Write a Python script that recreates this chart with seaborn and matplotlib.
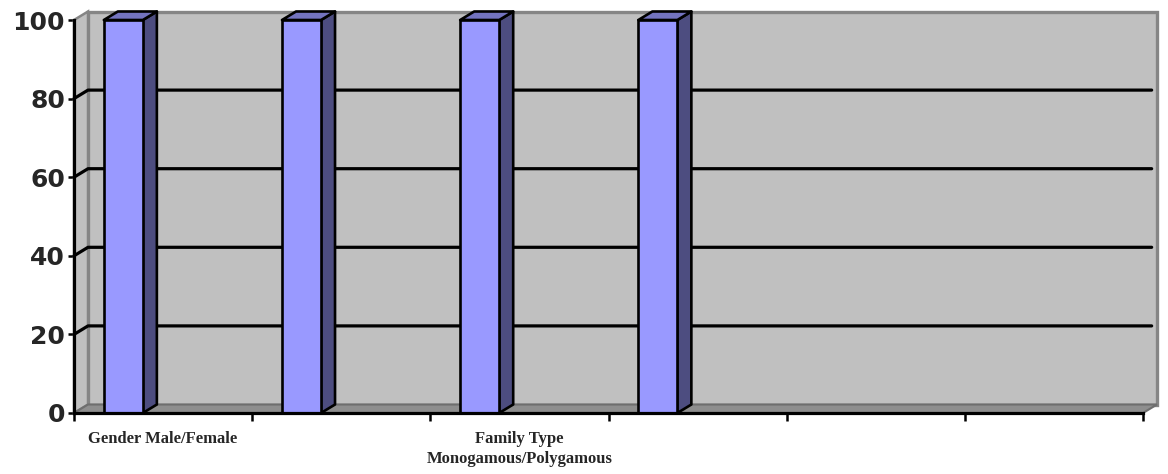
import numpy as np
import pandas as pd
import seaborn as sns
import matplotlib
matplotlib.use("Agg")
import matplotlib.pyplot as plt
from matplotlib.patches import Polygon
from matplotlib.lines import Line2D

# ---- data -------------------------------------------------------------
category_ids = [1, 2, 3, 4, 5, 6]
tick_labels = ["Gender Male/Female", "", "Family Type\nMonogamous/Polygamous", "", "", ""]
values = [100, 100, 100, 100, np.nan, np.nan]
y_ticks = [0, 20, 40, 60, 80, 100]

# ---- style ------------------------------------------------------------
sns.set_theme(style="white")
plt.rcParams["font.family"] = ["DejaVu Sans"]

FRONT = "#9999FF"
SIDE = "#4D4D80"
TOP = "#7373BF"
WALL = "#C0C0C0"
WALL_EDGE = "#858585"
FLOOR = "#8E8E8E"

W, H, DPI = 1168, 474, 100
fig = plt.figure(figsize=(W / DPI, H / DPI), dpi=DPI)
ax = fig.add_axes([74 / W, 61 / H, (1143 - 74) / W, (413 - 20) / H])
ax.set_facecolor("none")

df = pd.DataFrame({"category": category_ids, "value": values})
sns.barplot(data=df, x="category", y="value", order=category_ids,
            color=FRONT, saturation=1, width=0.219, errorbar=None,
            edgecolor="black", linewidth=1.9, ax=ax)

ax.set_xlim(-0.5, len(category_ids) - 0.5)
ax.set_ylim(0, 100)

# depth of the 3-D box, in pixels, converted to data units
depth_px = (14, 8.5)
x0, x1 = ax.get_xlim()
dx = depth_px[0] * (x1 - x0) / ax.bbox.width
dy = depth_px[1] * 100 / ax.bbox.height

# back wall, side wall and floor
back = Polygon([(x0 + dx, dy), (x1 + dx, dy), (x1 + dx, 100 + dy), (x0 + dx, 100 + dy)],
               closed=True, facecolor=WALL, edgecolor=WALL_EDGE, lw=2.4,
               zorder=0.5, clip_on=False)
side = Polygon([(x0, 0), (x0, 100), (x0 + dx, 100 + dy), (x0 + dx, dy)],
               closed=True, facecolor=WALL, edgecolor=WALL_EDGE, lw=1.8,
               zorder=0.6, clip_on=False)
floor = Polygon([(x0, 0), (x1, 0), (x1 + dx, dy), (x0 + dx, dy)],
                closed=True, facecolor=FLOOR, edgecolor="#6E6E6E", lw=1.5,
                zorder=0.7, clip_on=False)
for p in (back, side, floor):
    ax.add_patch(p)

# gridlines running across the side wall and along the back wall
for v in y_ticks[1:-1]:
    ax.add_line(Line2D([x0, x0 + dx, x1 + dx - 0.03], [v, v + dy, v + dy],
                       color="black", lw=2.3, zorder=1, clip_on=False))

# bars: shift within their slot and give them side and top faces
bar_shift = -0.223
for p in list(ax.patches):
    if p in (back, side, floor):
        continue
    h = p.get_height()
    if not np.isfinite(h) or h <= 0:
        p.set_visible(False)
        continue
    p.set_x(p.get_x() + bar_shift)
    p.set_zorder(5)
    p.set_clip_on(False)
    bl = p.get_x()
    br = bl + p.get_width()
    ax.add_patch(Polygon([(br, 0), (br, h), (br + dx, h + dy), (br + dx, dy)],
                         closed=True, facecolor=SIDE, edgecolor="black",
                         lw=1.9, zorder=4.9, clip_on=False, joinstyle="round"))
    ax.add_patch(Polygon([(bl, h), (br, h), (br + dx, h + dy), (bl + dx, h + dy)],
                         closed=True, facecolor=TOP, edgecolor="black",
                         lw=1.9, zorder=4.9, clip_on=False, joinstyle="round"))

# axes
for s in ("top", "right"):
    ax.spines[s].set_visible(False)
for s in ("left", "bottom"):
    ax.spines[s].set_color("black")
    ax.spines[s].set_linewidth(2.3)
    ax.spines[s].set_zorder(6)

ax.set_yticks(y_ticks)
ax.set_yticklabels([str(t) for t in y_ticks], fontsize=18, fontweight="bold")
ax.tick_params(axis="y", direction="out", length=4.5, width=1.8,
               color="black", pad=2, left=True)

ax.set_xticks(range(len(category_ids)))
ax.set_xticklabels(tick_labels, fontsize=12, fontweight="bold",
                   family=["Liberation Serif"], linespacing=1.3)
ax.tick_params(axis="x", which="major", length=0, pad=13)
ax.set_xticks(np.arange(-0.5, len(category_ids)), minor=True)
ax.tick_params(axis="x", which="minor", direction="out", length=5.5,
               width=1.8, color="black", bottom=True)

ax.set_xlabel("")
ax.set_ylabel("")

fig.savefig("out.png", dpi=DPI, facecolor="white")
